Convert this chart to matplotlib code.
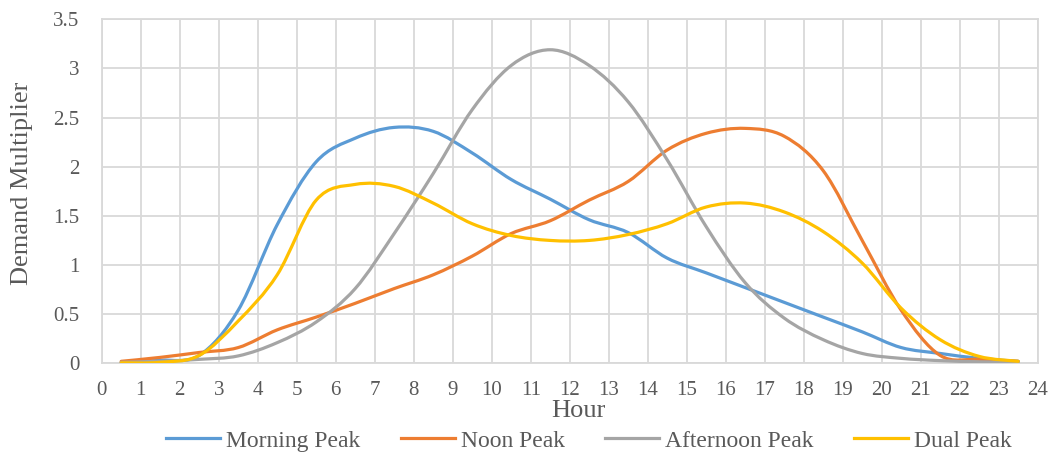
import numpy as np
import matplotlib.pyplot as plt
from matplotlib.path import Path
from matplotlib.patches import PathPatch
from matplotlib.lines import Line2D

plt.rcParams['font.family'] = ['Liberation Serif', 'DejaVu Serif']

# -------------------- data --------------------
hours = [0.5, 1.5, 2.5, 3.5, 4.5, 5.5, 6.5, 7.5, 8.5, 9.5, 10.5, 11.5,
         12.5, 13.5, 14.5, 15.5, 16.5, 17.5, 18.5, 19.5, 20.5, 21.5, 22.5, 23.5]

morning = [0.01, 0.03, 0.08, 0.54, 1.41, 2.05, 2.29, 2.40, 2.36, 2.14, 1.87, 1.67,
           1.46, 1.33, 1.07, 0.92, 0.77, 0.62, 0.47, 0.32, 0.16, 0.10, 0.05, 0.02]
noon = [0.02, 0.06, 0.11, 0.16, 0.34, 0.47, 0.61, 0.76, 0.90, 1.09, 1.32, 1.45,
        1.66, 1.85, 2.17, 2.34, 2.39, 2.31, 1.96, 1.25, 0.54, 0.08, 0.04, 0.02]
afternoon = [0.01, 0.02, 0.04, 0.075, 0.21, 0.42, 0.76, 1.32, 1.93, 2.58, 3.03, 3.19,
             3.03, 2.66, 2.07, 1.39, 0.82, 0.46, 0.24, 0.10, 0.05, 0.027, 0.015, 0.01]
dual = [0.005, 0.01, 0.08, 0.43, 0.90, 1.66, 1.82, 1.80, 1.63, 1.42, 1.30, 1.25,
        1.25, 1.31, 1.42, 1.59, 1.63, 1.54, 1.34, 1.02, 0.56, 0.24, 0.07, 0.02]

series = [('Morning Peak', morning, '#5B9BD5'),
          ('Noon Peak', noon, '#ED7D31'),
          ('Afternoon Peak', afternoon, '#A5A5A5'),
          ('Dual Peak', dual, '#FFC000')]


# Excel style smoothed line: Catmull-Rom turned into cubic Bezier segments
def smooth_path(x, y):
    pts = np.column_stack([x, y])
    n = len(pts)
    verts = [pts[0]]
    codes = [Path.MOVETO]
    for i in range(n - 1):
        p0 = pts[max(i - 1, 0)]
        p1 = pts[i]
        p2 = pts[i + 1]
        p3 = pts[min(i + 2, n - 1)]
        verts += [p1 + (p2 - p0) / 6, p2 - (p3 - p1) / 6, p2]
        codes += [Path.CURVE4] * 3
    return Path(verts, codes)


# -------------------- plotting --------------------
fig = plt.figure(figsize=(10.54, 4.58), dpi=100)
ax = fig.add_axes([0.0965, 0.2068, 0.8880, 0.7511])

handles = []
for name, vals, color in series:
    patch = PathPatch(smooth_path(hours, vals), facecolor='none', edgecolor=color,
                      lw=2.3, capstyle='round', joinstyle='round', zorder=3)
    ax.add_patch(patch)
    handles.append(Line2D([], [], color=color, lw=2.3, label=name))

ax.set_xlim(0, 24)
ax.set_ylim(0, 3.5)
ax.set_xticks(range(25))
ax.set_yticks(np.arange(0, 3.51, 0.5))
ax.set_yticklabels(['{:g}'.format(v) for v in np.arange(0, 3.51, 0.5)])
ax.grid(True, color='#D9D9D9', lw=1.3)
ax.set_axisbelow(True)
for s in ax.spines.values():
    s.set_color('#D9D9D9')
    s.set_linewidth(1.3)
ax.tick_params(length=0, labelsize=15, labelcolor='#595959')
ax.tick_params(axis='y', pad=16)
ax.tick_params(axis='x', pad=13)

ax.set_xlabel('Hour', fontsize=19, color='#595959')
ax.xaxis.set_label_coords(0.509, -0.139)
ax.xaxis.label.set_verticalalignment('center')
ax.set_ylabel('Demand Multiplier', fontsize=19, color='#595959')
ax.yaxis.set_label_coords(-0.085, 0.524)
ax.yaxis.label.set_verticalalignment('center')

fig.legend(handles=handles, loc='center', bbox_to_anchor=(589 / 1054, 1 - 441 / 458),
           ncol=4, frameon=False, fontsize=17, labelcolor='#595959',
           handlelength=2.3, handletextpad=0.25, columnspacing=1.7)

fig.savefig('out.png', dpi=100)
